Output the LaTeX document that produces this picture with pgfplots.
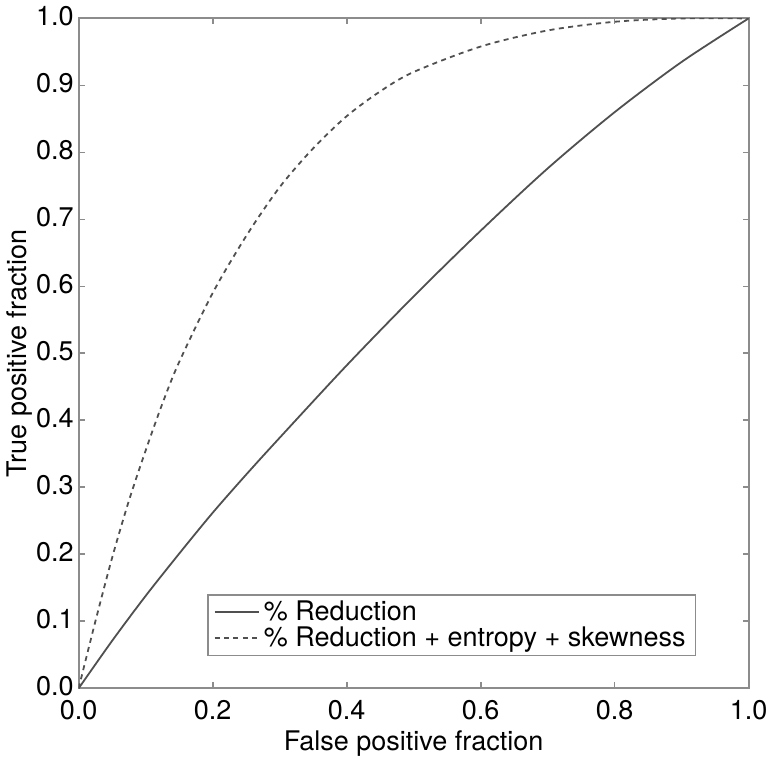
\documentclass[border=0pt]{standalone}
\usepackage{pgfplots}
\pgfplotsset{compat=1.18}
\usepackage{fontspec}
\setmainfont{TeX Gyre Heros}
\definecolor{axisgray}{HTML}{8C8C8C}
\definecolor{linegray}{HTML}{505050}
\begin{document}
\begin{tikzpicture}
  \begin{axis}[
      width=335pt, height=335pt,
      scale only axis,
      xmin=0, xmax=1, ymin=0, ymax=1,
      xtick={0,0.2,...,1.0},
      ytick={0,0.1,...,1.0},
      tick align=inside,
      major tick length=3pt,
      axis line style={axisgray, line width=1pt},
      every tick/.style={axisgray, line width=0.9pt},
      xticklabel style={yshift=-2.5pt, /pgf/number format/.cd, fixed, fixed zerofill, precision=1},
      yticklabel style={xshift=1pt, yshift=1pt, /pgf/number format/.cd, fixed, fixed zerofill, precision=1},
      /pgf/number format/assume math mode=true,
      tick label style={font=\fontsize{13.5}{15}\selectfont},
      label style={font=\fontsize{13.5}{15}\selectfont},
      xlabel={False positive fraction},
      ylabel={True positive fraction},
      xlabel style={yshift=1.5pt},
      ylabel style={yshift=-5pt},
      legend style={
        at={(0.922,0.048)}, anchor=south east,
        draw=axisgray, line width=0.8pt,
        font=\fontsize{13.5}{15}\selectfont,
        cells={anchor=west},
        row sep=-2.5pt,
        inner xsep=3pt, inner ysep=1pt,
      },
      legend image post style={line width=0.9pt},
      legend image code/.code={\draw[#1] (0cm,0cm) -- (0.78cm,0cm);},
  ]
  % solid curve
  \addplot[linegray, line width=0.9pt, smooth] coordinates {
      (0,0) (0.05,0.071) (0.1,0.138) (0.15,0.201) (0.2,0.262)
      (0.25,0.319) (0.3,0.374) (0.4,0.482) (0.5,0.585) (0.6,0.683)
      (0.7,0.776) (0.8,0.86) (0.9,0.935) (1,1)
  };
  \addlegendentry{\% Reduction}

  % dashed curve
  \addplot[linegray, line width=0.9pt, smooth, dash pattern=on 2.5pt off 2.2pt] coordinates {
      (0,0) (0.025,0.1) (0.05,0.195) (0.075,0.28) (0.1,0.355)
      (0.125,0.425) (0.15,0.487) (0.2,0.59) (0.25,0.675) (0.3,0.748)
      (0.35,0.806) (0.4,0.854) (0.45,0.891) (0.5,0.92) (0.6,0.958)
      (0.7,0.982) (0.8,0.995) (0.9,1) (1,1)
  };
  \addlegendentry{\% Reduction + entropy + skewness}
  \end{axis}
\end{tikzpicture}
\end{document}
